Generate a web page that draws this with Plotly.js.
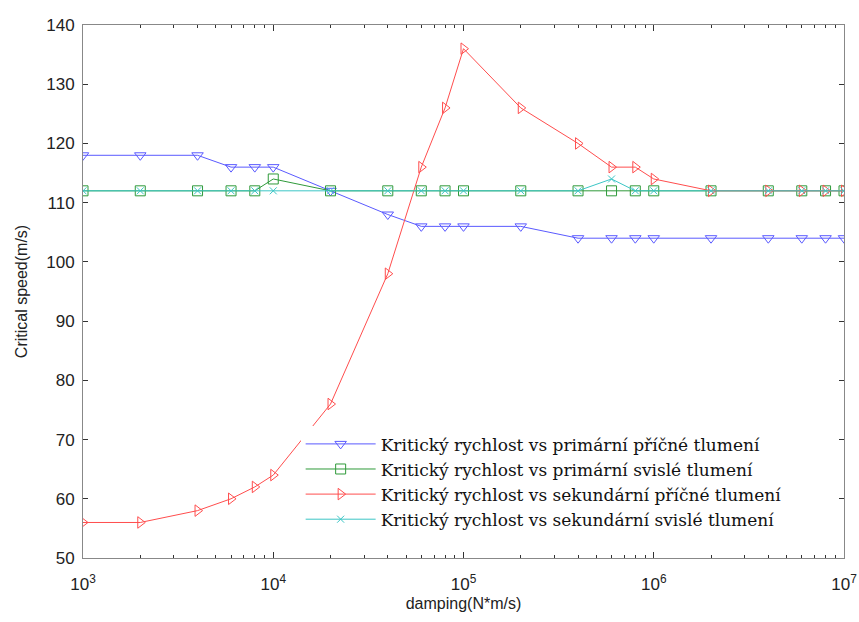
<!DOCTYPE html>
<html>
<head>
<meta charset="utf-8">
<script src="https://cdn.plot.ly/plotly-3.0.1.min.js"></script>
<style>html,body{margin:0;padding:0;background:#fff;}#chart{width:859px;height:622px;}</style>
</head>
<body>
<div id="chart"></div>
<script>
const damping = [1e3, 2e3, 4e3, 6e3, 8e3, 1e4, 2e4, 4e4, 6e4, 8e4, 1e5, 2e5, 4e5, 6e5, 8e5, 1e6, 2e6, 4e6, 6e6, 8e6, 1e7];
const primLateral = [118, 118, 118, 116, 116, 116, 112, 108, 106, 106, 106, 106, 104, 104, 104, 104, 104, 104, 104, 104, 104];
const primVertical = [112, 112, 112, 112, 112, 114, 112, 112, 112, 112, 112, 112, 112, 112, 112, 112, 112, 112, 112, 112, 112];
const secLateral = [56, 56, 58, 60, 62, 64, 76, 98, 116, 126, 136, 126, 120, 116, 116, 114, 112, 112, 112, 112, 112];
const secVertical = [112, 112, 112, 112, 112, 112, 112, 112, 112, 112, 112, 112, 112, 114, 112, 112, 112, 112, 112, 112, 112];
const seriesNames = [
  "Kritický rychlost vs primární příčné tlumení",
  "Kritický rychlost vs primární svislé tlumení",
  "Kritický rychlost vs sekundární příčné tlumení",
  "Kritický rychlost vs sekundární svislé tlumení"
];
const xTickVals = [1e3, 1e4, 1e5, 1e6, 1e7];
const xTickText = ["10<sup>3</sup>", "10<sup>4</sup>", "10<sup>5</sup>", "10<sup>6</sup>", "10<sup>7</sup>"];
const yTickVals = [50, 60, 70, 80, 90, 100, 110, 120, 130, 140];

function tr(y, name, color, symbol, size) {
  return {x: damping, y: y, name: name, type: 'scatter', mode: 'lines+markers',
    line: {color: color, width: 1},
    marker: {symbol: symbol, size: size, color: color, line: {color: color, width: 1}}};
}
const data = [
  tr(primLateral, seriesNames[0], '#5a5aff', 'triangle-down-open', 10),
  tr(primVertical, seriesNames[1], '#2f9a3a', 'square-open', 10),
  tr(secLateral, seriesNames[2], '#ff4d4d', 'triangle-right-open', 10),
  tr(secVertical, seriesNames[3], '#3cc6c6', 'x-thin-open', 7)
];
const axFont = {family: 'Liberation Sans', size: 17, color: '#222'};
const layout = {
  width: 859, height: 622,
  margin: {l: 83, r: 15, t: 25, b: 64},
  paper_bgcolor: '#fff', plot_bgcolor: '#fff',
  showlegend: true,
  legend: {x: 0.286, y: 0.247, xanchor: 'left', yanchor: 'top', bgcolor: '#fff', borderwidth: 0,
    font: {family: 'DejaVu Serif', size: 17, color: '#111'}, itemwidth: 70, tracegroupgap: 0},
  xaxis: {type: 'log', range: [3, 7], tickvals: xTickVals, ticktext: xTickText,
    ticks: 'inside', ticklen: 6, tickcolor: '#333', showgrid: false, zeroline: false,
    showline: true, linecolor: '#888', linewidth: 1, mirror: 'ticks',
    minor: {dtick: 'D1', ticks: 'inside', ticklen: 3, tickcolor: '#333', showgrid: false},
    tickfont: axFont, ticklabelstandoff: 11,
    title: {text: 'damping(N*m/s)', font: {family: 'Liberation Sans', size: 16, color: '#222'}, standoff: 4}},
  yaxis: {range: [50, 140], tickvals: yTickVals, ticks: 'inside', ticklen: 5, tickcolor: '#333',
    showgrid: false, zeroline: false, showline: true, linecolor: '#888', linewidth: 1, mirror: 'ticks',
    tickfont: axFont, ticklabelstandoff: 4,
    title: {text: 'Critical speed(m/s)', font: {family: 'Liberation Sans', size: 16, color: '#222'}, standoff: 14}}
};
Plotly.newPlot('chart', data, layout, {displayModeBar: false, staticPlot: true});
</script>
</body>
</html>
